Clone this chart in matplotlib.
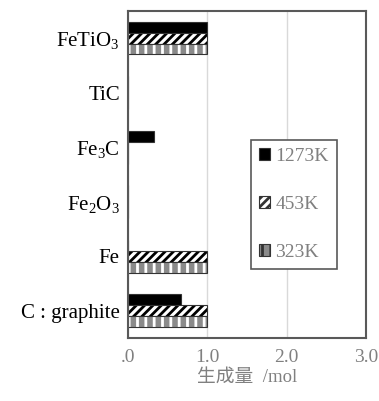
import numpy as np
import matplotlib.pyplot as plt
from matplotlib.patches import Patch

categories = ['FeTiO$_3$', 'TiC', 'Fe$_3$C', 'Fe$_2$O$_3$', 'Fe', 'C : graphite']
series = ['1273K', '453K', '323K']
v1273 = [1.0, 0.0, 0.33, 0.0, 0.0, 0.67]
v453 = [1.0, 0.0, 0.0, 0.0, 1.0, 1.0]
v323 = [1.0, 0.0, 0.0, 0.0, 1.0, 1.0]
xticks = [0.0, 1.0, 2.0, 3.0]
xticklabels = ['.0', '1.0', '2.0', '3.0']

plt.rcParams['mathtext.fontset'] = 'custom'
plt.rcParams['mathtext.rm'] = 'Liberation Serif'
plt.rcParams['mathtext.it'] = 'Liberation Serif:italic'
plt.rcParams['hatch.linewidth'] = 2.0

fig = plt.figure(figsize=(3.79, 4.01), dpi=100)
ax = fig.add_axes([0.338, 0.157, 0.628, 0.816])

y = np.arange(len(categories))
h = 0.2
styles = [
    dict(facecolor='black', hatch=None, hcolor='black'),
    dict(facecolor='white', hatch='////', hcolor='black'),
    dict(facecolor='#8a8a8a', hatch='||', hcolor='white'),
]
vals = [v1273, v453, v323]
offsets = [-h, 0, h]
for v, off, st in zip(vals, offsets, styles):
    ax.barh(y + off, v, height=h, color=st['facecolor'], hatch=st['hatch'],
            edgecolor=st['hcolor'], linewidth=0)
    ax.barh(y + off, v, height=h, fill=False, edgecolor='#333333', linewidth=0.8)

ax.set_ylim(len(categories) - 0.5, -0.5)
ax.set_xlim(0, 3.0)
ax.set_yticks(y)
ax.set_yticklabels(categories, fontsize=15, family='Liberation Serif')
ax.set_xticks(xticks)
ax.set_xticklabels(xticklabels, fontsize=14, family='Liberation Serif', color='#808080')
ax.tick_params(length=0, pad=6)
ax.tick_params(axis='x', pad=8)
ax.grid(axis='x', color='#d9d9d9', linewidth=1)
ax.set_axisbelow(True)
for s in ax.spines.values():
    s.set_color('#595959')
    s.set_linewidth(1.5)

ax.set_xlabel('生成量  /mol', fontsize=13.5, color='#808080',
              family=['Liberation Serif', 'Noto Sans CJK JP'], labelpad=2)

handles = []
for st in styles:
    handles.append(Patch(facecolor=st['facecolor'], hatch=st['hatch'],
                         edgecolor='#333333', linewidth=0.8))
leg = ax.legend(handles, series, loc='upper left', bbox_to_anchor=(0.517, 0.605),
                prop={'family': 'Liberation Serif', 'size': 14},
                labelspacing=1.6, handlelength=0.55, handleheight=0.55,
                handletextpad=0.3, borderpad=0.4, borderaxespad=0, fancybox=False,
                edgecolor='#595959', framealpha=1)
leg.get_frame().set_linewidth(1.2)
for t in leg.get_texts():
    t.set_color('#808080')

fig.savefig('out.png', dpi=100)
